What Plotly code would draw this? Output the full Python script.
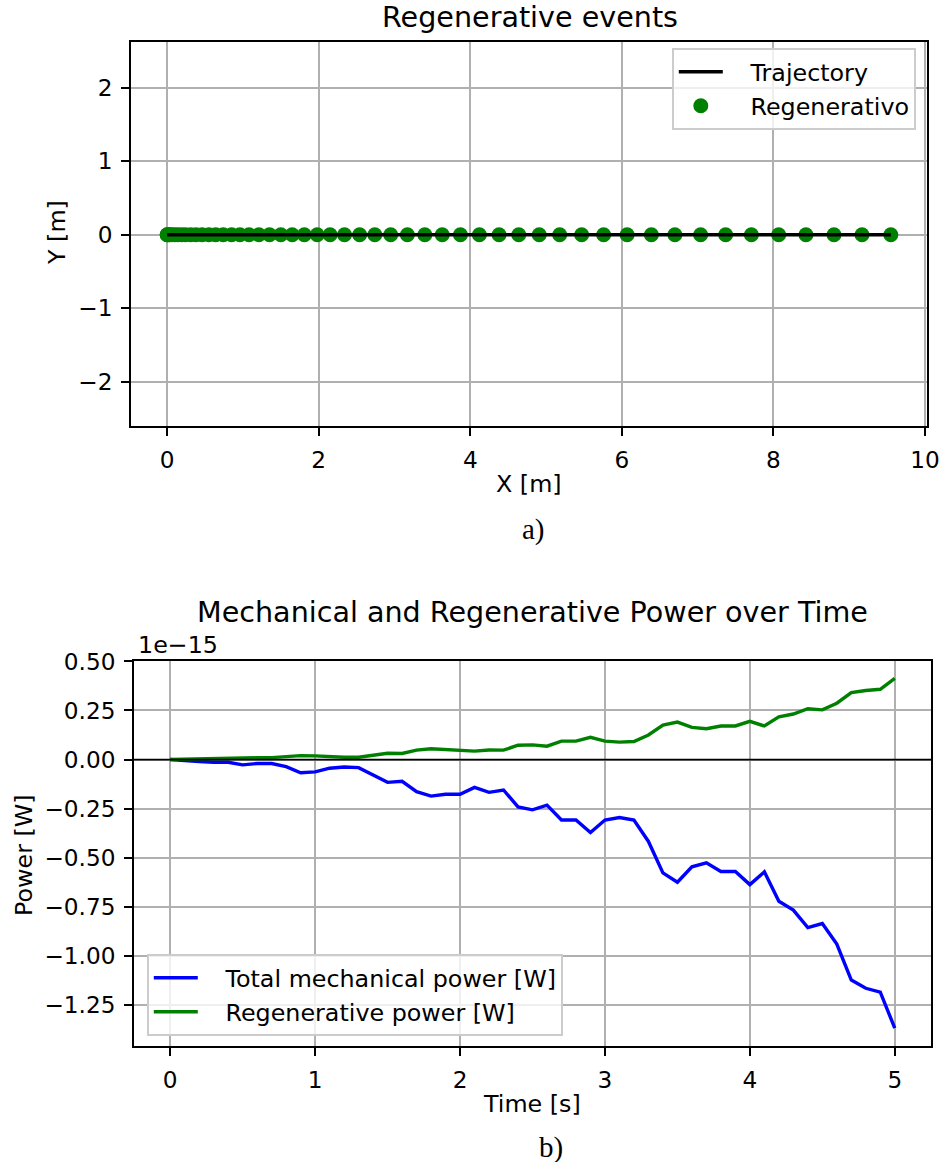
import plotly.graph_objects as go

# ---------------- data ----------------
# Top panel: positions of regenerative events along the trajectory
x_pos = [0.00, 0.00, 0.02, 0.03, 0.06, 0.10, 0.14, 0.19, 0.24, 0.31, 0.38,
         0.46, 0.55, 0.64, 0.74, 0.85, 0.96, 1.08, 1.21, 1.35, 1.50, 1.65, 1.81,
         1.98, 2.15, 2.34, 2.54, 2.74, 2.95, 3.17, 3.40, 3.63, 3.87, 4.12, 4.38, 4.64,
         4.91, 5.18, 5.47, 5.76, 6.07, 6.39, 6.70, 7.04, 7.37, 7.71, 8.07, 8.43, 8.80, 9.17, 9.55]
y_pos = [0.0] * len(x_pos)

# Bottom panel: power over time (values in units of 1e-15 W)
time_s = [round(0.1 * i, 1) for i in range(51)]
mech_power = [0.000, -0.003, -0.010, -0.014, -0.014, -0.027, -0.020, -0.020, -0.036, -0.067,
              -0.063, -0.044, -0.038, -0.041, -0.080, -0.116, -0.111, -0.164, -0.186, -0.177,
              -0.177, -0.142, -0.167, -0.155, -0.241, -0.256, -0.232, -0.308, -0.308, -0.372,
              -0.308, -0.295, -0.308, -0.417, -0.577, -0.625, -0.546, -0.526, -0.570, -0.570,
              -0.637, -0.572, -0.722, -0.767, -0.856, -0.835, -0.940, -1.123, -1.165, -1.185,
              -1.368]
regen_power = [0.000, 0.002, 0.005, 0.005, 0.007, 0.010, 0.009, 0.010, 0.014, 0.020,
               0.019, 0.014, 0.012, 0.012, 0.022, 0.032, 0.031, 0.048, 0.055, 0.051,
               0.051, 0.043, 0.049, 0.048, 0.073, 0.075, 0.068, 0.094, 0.094, 0.113,
               0.094, 0.089, 0.092, 0.125, 0.176, 0.191, 0.164, 0.157, 0.171, 0.171,
               0.195, 0.171, 0.218, 0.232, 0.259, 0.253, 0.287, 0.341, 0.352, 0.358,
               0.413]

top_xticks = [0, 2, 4, 6, 8, 10]
top_yticks = [-2, -1, 0, 1, 2]
bot_xticks = [0, 1, 2, 3, 4, 5]
bot_yticks = [0.50, 0.25, 0.00, -0.25, -0.50, -0.75, -1.00, -1.25]

# ---------------- layout helpers ----------------
W, H = 943, 1162
FONT = "DejaVu Sans"
FS_TICK = 23.2
FS = 23.8
FS_TITLE = 28.6
px = lambda v: v / W
py = lambda v: 1 - v / H
GAP = "\u00a0\u00a0\u00a0"  # extra space between legend handle and label

fig = go.Figure()

fig.add_trace(go.Scatter(
    x=x_pos, y=y_pos, mode="markers", name=GAP + "Regenerativo",
    marker=dict(color="green", size=15, line=dict(width=0)),
    xaxis="x", yaxis="y", legend="legend", legendrank=2))
fig.add_trace(go.Scatter(
    x=x_pos, y=y_pos, mode="lines", name=GAP + "Trajectory",
    line=dict(color="black", width=3.4),
    xaxis="x", yaxis="y", legend="legend", legendrank=1))

fig.add_trace(go.Scatter(
    x=time_s, y=mech_power, mode="lines", name=GAP + "Total mechanical power [W]",
    line=dict(color="blue", width=3.4), xaxis="x2", yaxis="y2", legend="legend2"))
fig.add_trace(go.Scatter(
    x=time_s, y=regen_power, mode="lines", name=GAP + "Regenerative power [W]",
    line=dict(color="green", width=3.4), xaxis="x2", yaxis="y2", legend="legend2"))

axis_common = dict(
    showgrid=True, gridcolor="#b0b0b0", gridwidth=1.8,
    showline=True, linecolor="black", linewidth=1.8, mirror=True,
    ticks="outside", ticklen=8, tickwidth=1.8, tickcolor="black",
    tickfont=dict(family=FONT, size=FS_TICK, color="black"),
    zeroline=False, ticklabelstandoff=4, ticklabeloverflow="allow",
    automargin=False,
)

legend_common = dict(
    bgcolor="rgba(255,255,255,0.8)", bordercolor="#cccccc", borderwidth=1.8,
    font=dict(family=FONT, size=FS, color="black"), traceorder="normal",
    itemwidth=44, tracegroupgap=0,
)

fig.update_layout(
    width=W, height=H,
    margin=dict(l=0, r=0, t=0, b=0, autoexpand=False),
    paper_bgcolor="white", plot_bgcolor="white",
    font=dict(family=FONT, size=FS, color="black"),
    xaxis=dict(domain=[px(131), px(927)], range=[-0.4775, 10.0275],
               tickvals=top_xticks, anchor="y", **axis_common),
    yaxis=dict(domain=[py(426), py(42)], range=[-2.60, 2.62],
               tickvals=top_yticks, anchor="x", **axis_common),
    xaxis2=dict(domain=[px(134), px(931)], range=[-0.25, 5.25],
                tickvals=bot_xticks, anchor="y2", **axis_common),
    yaxis2=dict(domain=[py(1046), py(661)], range=[-1.459, 0.502],
                tickvals=bot_yticks, tickformat=".2f", anchor="x2", **axis_common),
    legend=dict(x=px(916), y=py(48), xanchor="right", yanchor="top", **legend_common),
    legend2=dict(x=px(147), y=py(1036), xanchor="left", yanchor="bottom", **legend_common),
    showlegend=True,
)

# zero line in bottom panel
fig.add_shape(type="line", xref="x2 domain", yref="y2", x0=0, x1=1, y0=0, y1=0,
              line=dict(color="black", width=1.8), layer="above")

def label(text, x, y, size=FS, family=FONT, angle=0, xanchor="center"):
    fig.add_annotation(text=text, x=px(x), y=py(y), xref="paper", yref="paper",
                       showarrow=False, xanchor=xanchor, yanchor="middle", textangle=angle,
                       font=dict(family=family, size=size, color="black"))

label("Regenerative events", 530, 17, size=FS_TITLE)
label("Mechanical and Regenerative Power over Time", 532, 612, size=FS_TITLE)
label("X [m]", 529, 484)
label("Y [m]", 57, 233, angle=-90)
label("Time [s]", 532, 1104)
label("Power [W]", 24, 855, angle=-90)
label("1e\u221215", 136, 645, xanchor="left")
label("a)", 533, 529, size=29, family="Liberation Serif")
label("b)", 551, 1147, size=29, family="Liberation Serif")

fig.write_html("out.html")
